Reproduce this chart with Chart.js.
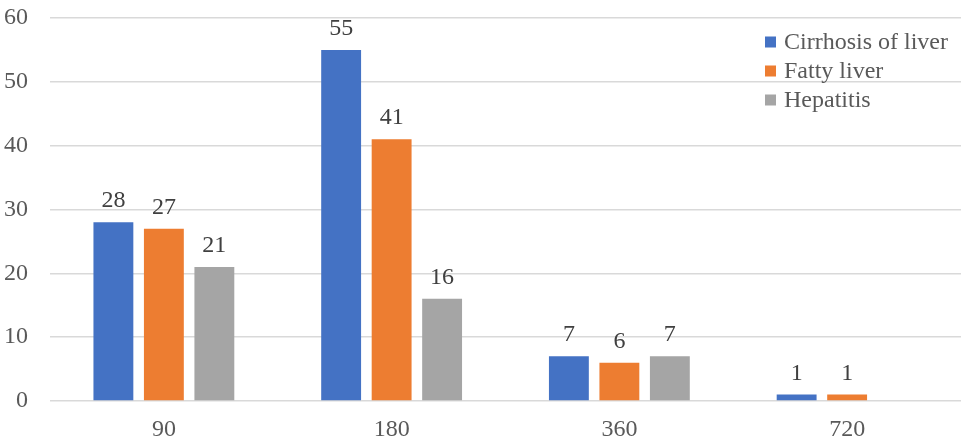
<!DOCTYPE html>
<html>
<head>
<meta charset="utf-8">
<script src="https://cdn.jsdelivr.net/npm/chart.js@4/dist/chart.umd.min.js"></script>
<style>
html,body{margin:0;padding:0;background:#fff;}
#wrap{width:976px;height:446px;}
</style>
</head>
<body>
<div id="wrap"><canvas id="c" width="976" height="446"></canvas></div>
<script>
const categories = ["90", "180", "360", "720"];
const cirrhosis = [28, 55, 7, 1];
const fatty = [27, 41, 6, 1];
const hepatitis = [21, 16, 7, null];
const seriesNames = ["Cirrhosis of liver", "Fatty liver", "Hepatitis"];
const colors = ["#4472C4", "#ED7D31", "#A5A5A5"];
const FONT = "'Liberation Serif', 'Times New Roman', serif";

const labelPlugin = {
  id: 'barLabels',
  afterDatasetsDraw(chart) {
    const ctx = chart.ctx;
    ctx.save();
    ctx.font = "24px " + FONT;
    ctx.fillStyle = "#404040";
    ctx.textAlign = "center";
    ctx.textBaseline = "alphabetic";
    chart.data.datasets.forEach((ds, i) => {
      const meta = chart.getDatasetMeta(i);
      meta.data.forEach((bar, j) => {
        const v = ds.data[j];
        if (v === null || v === undefined) return;
        ctx.fillText(String(v), bar.x, bar.y - 15);
      });
    });
    ctx.restore();
  }
};

const legendPlugin = {
  id: 'insideLegend',
  afterDraw(chart) {
    const ctx = chart.ctx;
    ctx.save();
    ctx.font = "24px " + FONT;
    ctx.textBaseline = "middle";
    ctx.textAlign = "left";
    const x0 = 765, y0 = 42, step = 29;
    chart.data.datasets.forEach((ds, i) => {
      const y = y0 + i * step;
      ctx.fillStyle = ds.backgroundColor;
      ctx.fillRect(x0, y - 5.5, 11, 11);
      ctx.fillStyle = "#595959";
      ctx.fillText(ds.label, x0 + 19, y + 1);
    });
    ctx.restore();
  }
};

new Chart(document.getElementById('c'), {
  type: 'bar',
  data: {
    labels: categories,
    datasets: [
      { label: seriesNames[0], data: cirrhosis, backgroundColor: colors[0] },
      { label: seriesNames[1], data: fatty, backgroundColor: colors[1] },
      { label: seriesNames[2], data: hepatitis, backgroundColor: colors[2] }
    ]
  },
  options: {
    responsive: false,
    animation: false,
    devicePixelRatio: 1,
    layout: { padding: { top: 18, right: 15, left: 0, bottom: 0 } },
    datasets: { bar: { categoryPercentage: 0.665, barPercentage: 0.79 } },
    plugins: { legend: { display: false }, tooltip: { enabled: false } },
    scales: {
      x: {
        grid: { display: false, drawTicks: false },
        border: { display: false },
        ticks: { font: { family: FONT, size: 24 }, color: "#595959", padding: 14 },
        afterFit(s) { s.height = 45; s.paddingLeft = 0; s.paddingRight = 0; }
      },
      y: {
        min: 0, max: 60,
        ticks: { stepSize: 10, font: { family: FONT, size: 24 }, color: "#595959", padding: 22 },
        grid: { color: "#d9d9d9", lineWidth: 1.5, drawTicks: false },
        border: { display: false },
        afterFit(s) { s.width = 50; s.paddingTop = 0; s.paddingBottom = 0; }
      }
    }
  },
  plugins: [labelPlugin, legendPlugin]
});
</script>
</body>
</html>
